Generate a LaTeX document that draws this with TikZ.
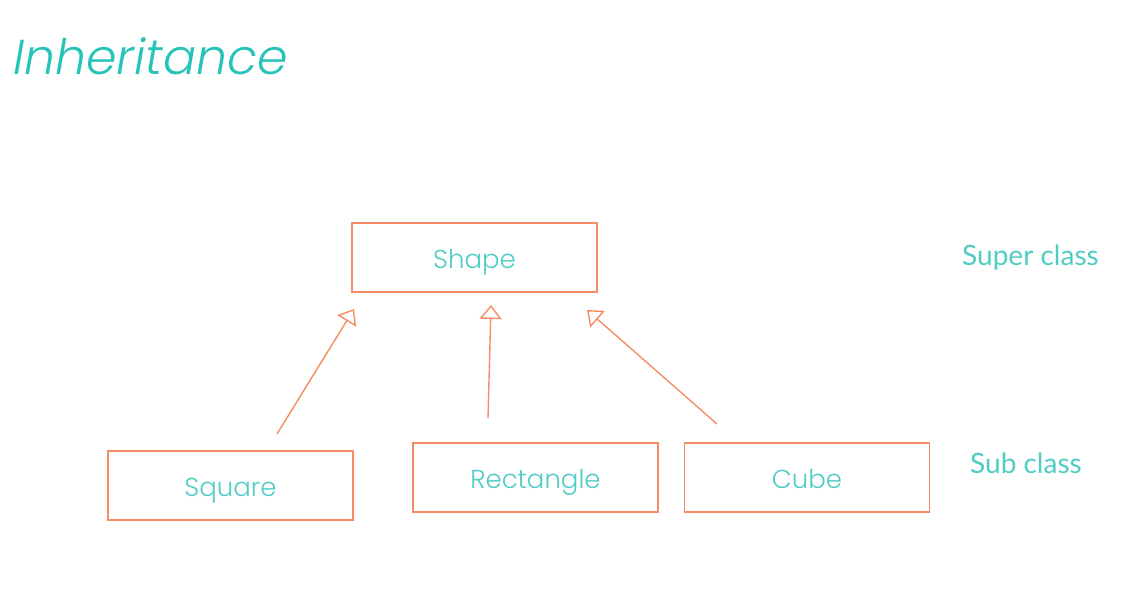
\documentclass[tikz,border=0pt]{standalone}
\usepackage{fontspec}
\setmainfont{Lato}
\newfontfamily\popl{Poppins}[UprightFont={* Light}, ItalicFont={* Light Italic}]
\usetikzlibrary{arrows.meta}
\definecolor{teal1}{RGB}{38,196,184}
\definecolor{teal2}{RGB}{80,204,196}
\definecolor{orng}{RGB}{246,140,100}
\tikzset{
  cls/.style={draw=orng, line width=1.6pt, minimum width=245pt, minimum height=69pt, inner sep=0pt,
    text=teal2, font=\popl\fontsize{26}{30}\selectfont, text height=22pt, text depth=0pt},
  side/.style={text=teal2, font=\fontsize{28}{32}\selectfont, anchor=west, inner sep=0pt},
  inh/.style={draw=orng, line width=1.4pt, -{Triangle[open,width=22pt,length=14pt,line width=1.4pt]}}
}
\begin{document}
\begin{tikzpicture}[x=1pt,y=-1pt]
\useasboundingbox (0,0) rectangle (1146,597);
\node[text=teal1, font=\popl\fontsize{49}{56}\selectfont\itshape, anchor=base west, inner sep=0pt] (title) at (13,74) {Inheritance};
\node[cls] (shape) at (474.5,257.5) {Shape};
\node[cls] (square) at (230.5,485.5) {Square};
\node[cls] (rect) at (535.5,477.5) {Rectangle};
\node[cls] (cube) at (807,477.5) {Cube};
\node[side] (super) at (962,258) {Super class};
\node[side] (sub) at (970,463) {Sub class};
\coordinate (a1s) at (277,434);
\coordinate (a1e) at (354,309);
\coordinate (a2s) at (488,418);
\coordinate (a2e) at (491,305);
\coordinate (a3s) at (717,424);
\coordinate (a3e) at (587,310);
\draw[inh] (a1s) -- (a1e);
\draw[inh] (a2s) -- (a2e);
\draw[inh] (a3s) -- (a3e);
\end{tikzpicture}
\end{document}
